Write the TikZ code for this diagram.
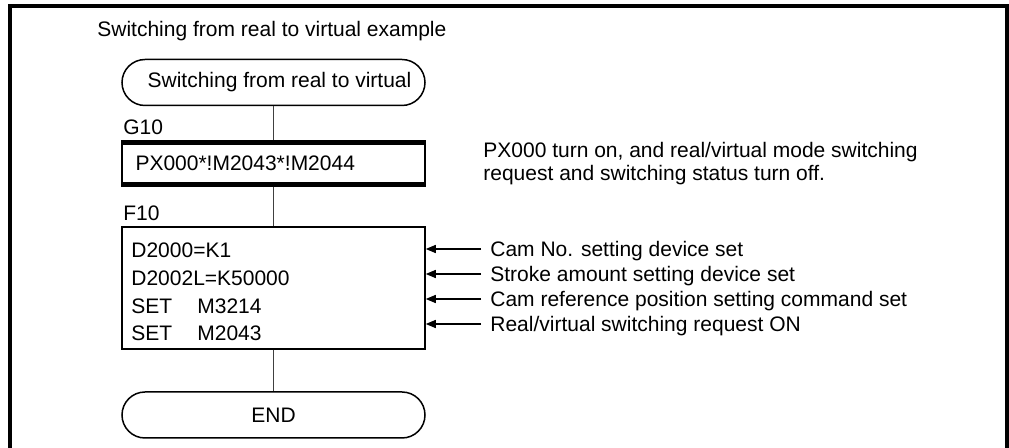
\documentclass[tikz,border=0pt]{standalone}
\usepackage{fontspec}
\setmainfont{Liberation Sans}
\usetikzlibrary{arrows.meta,calc}
\begin{document}
\begin{tikzpicture}[x=0.5pt,y=-0.5pt,
  every node/.style={font=\fontsize{10.5pt}{12.6pt}\selectfont},
  txt/.style={anchor=base west,inner sep=0pt},
  term/.style={draw,line width=0.75pt,rounded corners=11.5pt,minimum width=151.5pt,minimum height=23pt,inner sep=0pt},
  boxnode/.style={draw,line width=0.75pt,minimum width=151.5pt,inner sep=0pt},
  bar/.style={line width=2.4pt},
  conn/.style={draw=black!75,line width=0.65pt},
  arr/.style={line width=0.65pt,-{Triangle[length=5pt,width=4pt]}},
  frame/.style={line width=2pt,line join=miter}]
\useasboundingbox (0,0) rectangle (1009,448);
\draw[frame] (10,448) -- (10,6) -- (1007,6) -- (1007,448);
\node[txt] (title) at (97,37) {Switching from real to virtual example};
% start terminal
\node[term] (start) at (273.5,82.5) {\hspace{6pt}Switching from real to virtual};
% G10
\node[txt] (lg10) at (123,135) {G10};
\node[boxnode,minimum height=22.5pt,text width=138pt,inner xsep=6.75pt,align=left] (g10) at (273.5,163.5) {PX000*!M2043*!M2044};
\draw[bar] ([yshift=-1.2pt]g10.north west) -- ([yshift=-1.2pt]g10.north east);
\draw[bar] ([yshift=1.2pt]g10.south west) -- ([yshift=1.2pt]g10.south east);
\node[txt] (d1) at (483,158) {PX000 turn on, and real/virtual mode switching};
\node[txt] (d2) at (483,180.5) {request and switching status turn off.};
% F10
\node[txt] (lf10) at (123,221) {F10};
\node[boxnode,minimum height=61pt] (f10) at (273.5,288) {};
\node[txt] (l1) at (131,258) {D2000=K1};
\node[txt] (l2) at (131,285.7) {D2002L=K50000};
\node[txt] (l3) at (131,313.3) {\makebox[33pt][l]{SET}M3214};
\node[txt] (l4) at (131,341) {\makebox[33pt][l]{SET}M2043};
\node[txt] (r1) at (490,257) {Cam No. setting device set};
\node[txt] (r2) at (490,282) {Stroke amount setting device set};
\node[txt] (r3) at (490,307) {Cam reference position setting command set};
\node[txt] (r4) at (490,332) {Real/virtual switching request ON};
\foreach \r in {r1,r2,r3,r4}{
  \draw[arr] ([xshift=-4.5pt,yshift=4pt]\r.base west) -- ([yshift=4pt]\r.base west -| f10.east);
}
% END
\node[term] (end) at (273.5,415) {END};
% connectors
\draw[conn] (start) -- (g10);
\draw[conn] (g10) -- (f10);
\draw[conn] (f10) -- (end);
\end{tikzpicture}
\end{document}
